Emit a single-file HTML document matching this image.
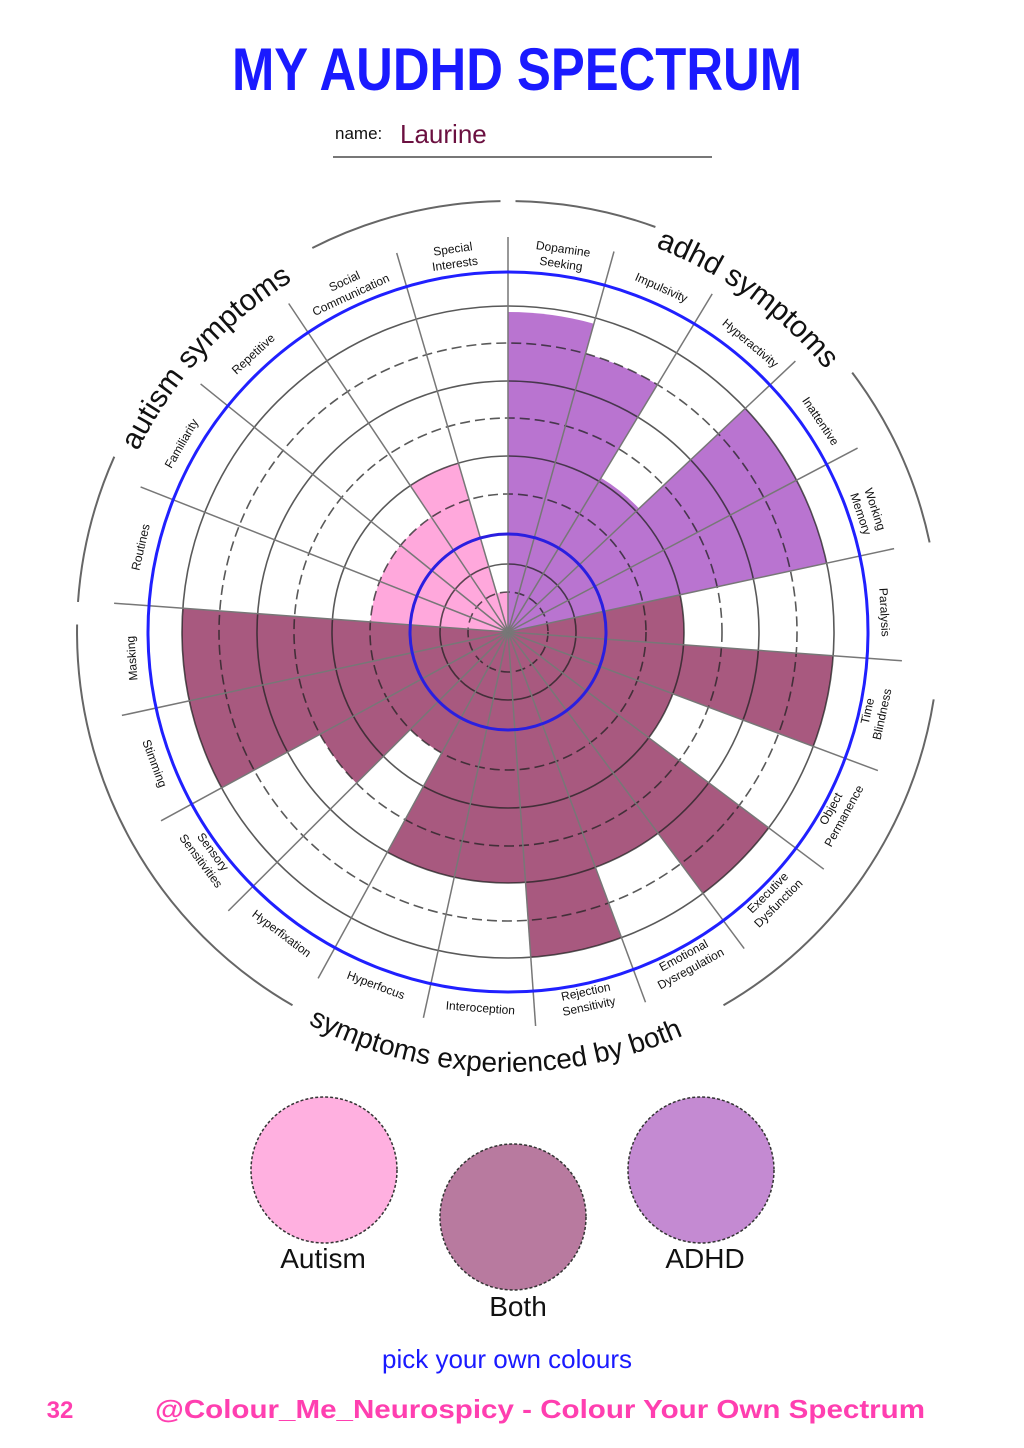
<!DOCTYPE html>
<html><head><meta charset="utf-8"><style>
html,body{margin:0;padding:0;background:#fff;}
svg{display:block;}
text{font-family:"Liberation Sans",sans-serif;}
</style></head><body>
<svg id="s" width="1024" height="1448" viewBox="0 0 1024 1448" xmlns="http://www.w3.org/2000/svg">
<rect width="1024" height="1448" fill="#fff"/>
<text x="517" y="90" font-size="60" font-weight="bold" fill="#1a1aff" text-anchor="middle" textLength="570" lengthAdjust="spacingAndGlyphs">MY AUDHD SPECTRUM</text>
<text x="335" y="139" font-size="17" fill="#111">name:</text>
<text x="400" y="143" font-size="26" fill="#6b1040">Laurine</text>
<line x1="333" y1="157" x2="712" y2="157" stroke="#777" stroke-width="2"/>
<g id="chart"></g>
<g id="labels" font-size="12" fill="#111" text-anchor="middle">
<g transform="rotate(8.2 508 632)"><text x="508" y="249">Dopamine</text><text x="508" y="264">Seeking</text></g>
<g transform="rotate(24 508 632)"><text x="508" y="259">Impulsivity</text></g>
<g transform="rotate(40 508 632)"><text x="508" y="259">Hyperactivity</text></g>
<g transform="rotate(56 508 632)"><text x="508" y="259">Inattentive</text></g>
<g transform="rotate(71.5 508 632)"><text x="508" y="249">Working</text><text x="508" y="264">Memory</text></g>
<g transform="rotate(87 508 632)"><text x="508" y="259">Paralysis</text></g>
<g transform="rotate(102.4 508 632) rotate(180 508 255)"><text x="508" y="250">Time</text><text x="508" y="265">Blindness</text></g>
<g transform="rotate(118.7 508 632) rotate(180 508 255)"><text x="508" y="250">Object</text><text x="508" y="265">Permanence</text></g>
<g transform="rotate(135.1 508 632) rotate(180 508 255)"><text x="508" y="250">Executive</text><text x="508" y="265">Dysfunction</text></g>
<g transform="rotate(151.5 508 632) rotate(180 508 255)"><text x="508" y="250">Emotional</text><text x="508" y="265">Dysregulation</text></g>
<g transform="rotate(167.8 508 632) rotate(180 508 255)"><text x="508" y="250">Rejection</text><text x="508" y="265">Sensitivity</text></g>
<g transform="rotate(184.2 508 632) rotate(180 508 255)"><text x="508" y="259">Interoception</text></g>
<g transform="rotate(200.5 508 632) rotate(180 508 255)"><text x="508" y="259">Hyperfocus</text></g>
<g transform="rotate(216.9 508 632) rotate(180 508 255)"><text x="508" y="259">Hyperfixation</text></g>
<g transform="rotate(233.3 508 632) rotate(180 508 255)"><text x="508" y="250">Sensory</text><text x="508" y="265">Sensitivities</text></g>
<g transform="rotate(249.6 508 632) rotate(180 508 255)"><text x="508" y="259">Stimming</text></g>
<g transform="rotate(266 508 632)"><text x="508" y="259">Masking</text></g>
<g transform="rotate(283 508 632)"><text x="508" y="259">Routines</text></g>
<g transform="rotate(300 508 632)"><text x="508" y="259">Familiarity</text></g>
<g transform="rotate(317.5 508 632)"><text x="508" y="259">Repetitive</text></g>
<g transform="rotate(335 508 632)"><text x="508" y="249">Social</text><text x="508" y="264">Communication</text></g>
<g transform="rotate(351.8 508 632)"><text x="508" y="249">Special</text><text x="508" y="264">Interests</text></g>
</g>
<defs>
<path id="pA" d=""/><path id="pB" d=""/><path id="pC" d=""/>
</defs>
<text font-size="30" fill="#111"><textPath href="#pA">autism symptoms</textPath></text>
<text font-size="30" fill="#111"><textPath href="#pB">adhd symptoms</textPath></text>
<text font-size="28" fill="#111"><textPath href="#pC">symptoms experienced by both</textPath></text>

<circle cx="324" cy="1170" r="73" fill="#ffb0e0" stroke="#333" stroke-width="1.5" stroke-dasharray="3 2"/>
<circle cx="513" cy="1217" r="73" fill="#b87a9f" stroke="#333" stroke-width="1.5" stroke-dasharray="3 2"/>
<circle cx="701" cy="1170" r="73" fill="#c48ad2" stroke="#333" stroke-width="1.5" stroke-dasharray="3 2"/>
<text x="323" y="1268" font-size="28" fill="#111" text-anchor="middle">Autism</text>
<text x="518" y="1316" font-size="28" fill="#111" text-anchor="middle">Both</text>
<text x="705" y="1268" font-size="28" fill="#111" text-anchor="middle">ADHD</text>
<text x="507" y="1368" font-size="26" fill="#1a1aff" text-anchor="middle">pick your own colours</text>
<text x="60" y="1418" font-size="24" font-weight="bold" fill="#ff3fb0" text-anchor="middle">32</text>
<text x="540" y="1418" font-size="26" font-weight="bold" fill="#ff3fb0" text-anchor="middle" textLength="770" lengthAdjust="spacingAndGlyphs">@Colour_Me_Neurospicy - Colour Your Own Spectrum</text>
</svg>
<script>
(function(){
var cx=508,cy=632,NS="http://www.w3.org/2000/svg";
function pt(r,a){a=a*Math.PI/180;return [cx+r*Math.sin(a),cy-r*Math.cos(a)];}
function arc(r,a1,a2){var p=pt(r,a1),q=pt(r,a2);var large=(a2-a1)>180?1:0;return "M"+p[0].toFixed(1)+" "+p[1].toFixed(1)+" A"+r+" "+r+" 0 "+large+" 1 "+q[0].toFixed(1)+" "+q[1].toFixed(1);}
function wedge(r,a1,a2){var p=pt(r,a1),q=pt(r,a2);return "M"+cx+" "+cy+" L"+p[0].toFixed(1)+" "+p[1].toFixed(1)+" A"+r+" "+r+" 0 0 1 "+q[0].toFixed(1)+" "+q[1].toFixed(1)+" Z";}
var g=document.getElementById("chart");
function add(tag,attrs){var e=document.createElementNS(NS,tag);for(var k in attrs)e.setAttribute(k,attrs[k]);g.appendChild(e);return e;}
var P="#ffa8dc",A="#b974d0",B="#a8597f";
var data=[[320,A],[289,A],[180,A],[326,A],[326,A],[176,B],[326,B],[176,B],[326,B],[251,B],[326,B],[251,B],[251,B],[138,B],[214,B],[326,B],[326,B],[138,P],[138,P],[138,P],[176,P],[40,P]];
var st=360/22;
function bd(k){var o;if(k<=0||k>=22)o=0;else if(k<5)o=-4*k/5;else if(k<=17)o=-4;else o=-4*(21-k)/4; if(k>=21)o=0;return k*st+o;}
for(var i=0;i<22;i++){add("path",{d:wedge(data[i][0],bd(i),bd(i+1)),fill:data[i][1]});}
var rings=[40,68,138,176,214,251,289,326];
rings.forEach(function(r,j){add("circle",{cx:cx,cy:cy,r:r,fill:"none",stroke:"#222","stroke-opacity":"0.75","stroke-width":"1.6","stroke-dasharray":(j%2?"none":"10 5")});});
for(var i=0;i<22;i++){var p=pt(395,bd(i));add("line",{x1:cx,y1:cy,x2:p[0].toFixed(1),y2:p[1].toFixed(1),stroke:"#777","stroke-width":"1.5"});}
add("circle",{cx:cx,cy:cy,r:98,fill:"none",stroke:"#2a1fe0","stroke-width":"3"});
add("circle",{cx:cx,cy:cy,r:360,fill:"none",stroke:"#2020ff","stroke-width":"3"});
[[1,20],[53,78],[99,150],[210,271],[274,294],[333,359]].forEach(function(s){add("path",{d:arc(431,s[0],s[1]),fill:"none",stroke:"#666","stroke-width":"2"});});
document.getElementById("pA").setAttribute("d",arc(412,296,335));
document.getElementById("pB").setAttribute("d",arc(412,21,60));
var p=pt(440,207),q=pt(440,148);
document.getElementById("pC").setAttribute("d","M"+p[0].toFixed(1)+" "+p[1].toFixed(1)+" A440 440 0 0 0 "+q[0].toFixed(1)+" "+q[1].toFixed(1));
})();
</script>
</body></html>
